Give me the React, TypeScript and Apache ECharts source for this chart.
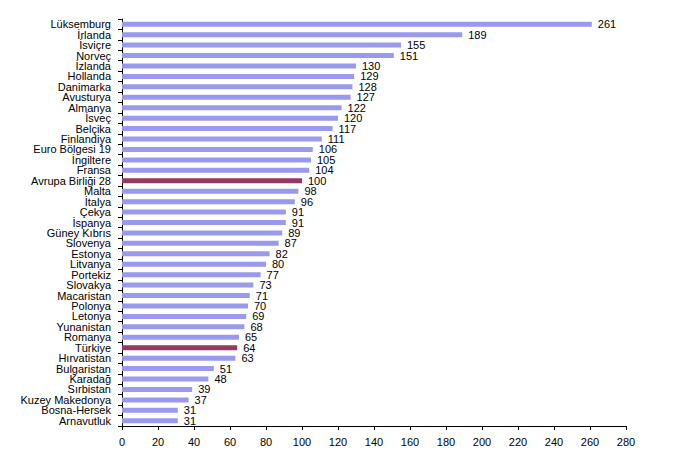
import React, { useEffect, useRef } from "react";
import * as echarts from "echarts";

const categories = [
  "Lüksemburg", "İrlanda", "İsviçre", "Norveç", "İzlanda", "Hollanda", "Danimarka",
  "Avusturya", "Almanya", "İsveç", "Belçika", "Finlandiya", "Euro Bölgesi 19",
  "İngiltere", "Fransa", "Avrupa Birliği 28", "Malta", "İtalya", "Çekya", "İspanya",
  "Güney Kıbrıs", "Slovenya", "Estonya", "Litvanya", "Portekiz", "Slovakya",
  "Macaristan", "Polonya", "Letonya", "Yunanistan", "Romanya", "Türkiye",
  "Hırvatistan", "Bulgaristan", "Karadağ", "Sırbistan", "Kuzey Makedonya",
  "Bosna-Hersek", "Arnavutluk",
];

const values = [
  261, 189, 155, 151, 130, 129, 128, 127, 122, 120, 117, 111, 106, 105, 104, 100,
  98, 96, 91, 91, 89, 87, 82, 80, 77, 73, 71, 70, 69, 68, 65, 64, 63, 51, 48, 39,
  37, 31, 31,
];

const highlighted = ["Avrupa Birliği 28", "Türkiye"];

const xTicks = { min: 0, max: 280, interval: 20 };

const FONT = "Arial, 'Liberation Sans', sans-serif";

export default function App() {
  const ref = useRef<HTMLDivElement>(null);
  useEffect(() => {
    if (!ref.current) return;
    const chart = echarts.init(ref.current, null, { renderer: "svg" });
    chart.setOption({
      animation: false,
      grid: { left: 114, right: 46, top: 11, bottom: 23, containLabel: false },
      xAxis: {
        type: "value",
        min: xTicks.min,
        max: xTicks.max,
        interval: xTicks.interval,
        splitLine: { show: false },
        axisLine: { show: true, lineStyle: { color: "#000", width: 1 } },
        axisTick: { show: true, length: 4, lineStyle: { color: "#000" } },
        axisLabel: { color: "#000", fontSize: 11, fontFamily: FONT, margin: 10 },
      },
      yAxis: {
        type: "category",
        inverse: true,
        data: categories,
        axisLine: { show: true, lineStyle: { color: "#000", width: 1 } },
        axisTick: { show: true, length: 4, lineStyle: { color: "#000" } },
        axisLabel: {
          color: "#000",
          fontSize: 11,
          lineHeight: 9,
          fontFamily: FONT,
          margin: 11,
          interval: 0,
        },
      },
      series: [
        {
          type: "bar",
          barWidth: 5,
          data: categories.map((c, i) => ({
            value: values[i],
            itemStyle: { color: highlighted.includes(c) ? "#953862" : "#9999ee" },
          })),
          label: {
            show: true,
            position: "right",
            distance: 6,
            color: "#000",
            fontSize: 11,
            lineHeight: 9,
            fontFamily: FONT,
          },
        },
      ],
    });
    return () => chart.dispose();
  }, []);
  return <div ref={ref} style={{ width: 664, height: 441 }} />;
}
